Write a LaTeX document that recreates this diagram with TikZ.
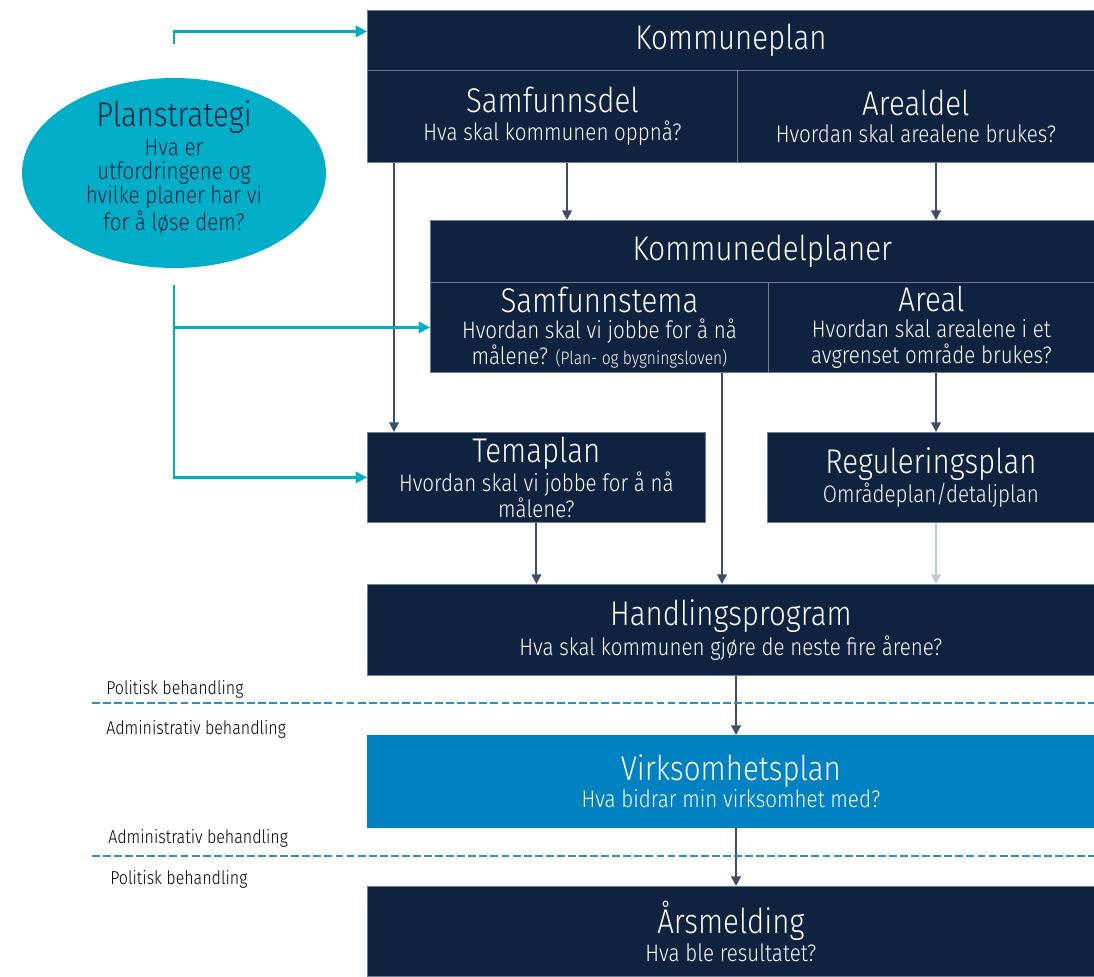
\documentclass[tikz,border=0pt]{standalone}
\usepackage{fontspec}
\setmainfont{Fira Sans}[UprightFont=* Light,FakeStretch=0.86]
\usetikzlibrary{positioning,calc,arrows.meta,shapes.geometric}
\definecolor{navy}{HTML}{0F2240}
\definecolor{vpblue}{HTML}{0082C2}
\definecolor{psblue}{HTML}{00AEC7}
\definecolor{arrowgrey}{HTML}{3F4E66}
\definecolor{lightgrey}{HTML}{C3CAD3}
\definecolor{divline}{HTML}{6E7C90}
\definecolor{dashblue}{HTML}{2A8FD0}
\newcommand{\boxtitle}{\fontsize{19.5}{22}\selectfont}
\newcommand{\boxsub}{\fontsize{13.6}{14.7}\selectfont}
\newcommand{\smalllabel}{\fontsize{10.6}{12}\selectfont}
\tikzset{every picture/.style={font issue=\boxsub},
            font issue/.style={execute at begin picture={#1}},
            planbox/.style={rectangle,fill=navy,draw=divline,line width=0.5pt,anchor=north west,
              inner sep=0pt,align=center,text=white},
            darr/.style={draw=arrowgrey,line width=1.1pt,-{Triangle[width=5.5pt,length=5.5pt]}},
            carr/.style={draw=psblue,line width=1.4pt,-{Triangle[width=6.5pt,length=6.5pt]}},
            sep/.style={draw=dashblue,line width=1.1pt,dash pattern=on 4.5pt off 1.8pt},
            behandling/.style={anchor=west,font=\smalllabel,text=black}
        }
\begin{document}
\begin{tikzpicture}[x=0.02cm,y=-0.02cm]
      \useasboundingbox (0,0) rectangle (1094,976);
      % kommuneplan
      \node[planbox,minimum width=14.54cm,minimum height=1.2cm] (kp) at (367,10) {\boxtitle Kommuneplan};
      \node[planbox,minimum width=7.4cm,minimum height=1.84cm] (sd) at (367,70)
        {{\boxtitle Samfunnsdel}\\[1pt] Hva skal kommunen oppnå?};
      \node[planbox,minimum width=7.14cm,minimum height=1.84cm] (ad) at (737,70)
        {{\boxtitle Arealdel}\\[1pt] Hvordan skal arealene brukes?};
      % planstrategi
      \node[ellipse,fill=psblue,minimum width=6.08cm,minimum height=3.8cm,inner sep=0pt] (ps) at (174,173) {};
      \node[align=center,text=navy,font=\fontsize{13.6}{13.6}\selectfont] (pstext) at (174,167)
        {{\boxtitle Planstrategi}\\[3pt] Hva er\\ utfordringene og\\ hvilke planer har vi\\ for å løse dem?};
      % kommunedelplaner
      \node[planbox,minimum width=13.28cm,minimum height=1.24cm] (kdp) at (430,220) {\boxtitle Kommunedelplaner};
      \node[planbox,minimum width=6.76cm,minimum height=1.8cm] (st) at (430,282)
        {{\boxtitle Samfunnstema}\\ Hvordan skal vi jobbe for å nå\\ målene? {\fontsize{10.3}{10}\selectfont(Plan- og bygningsloven)}};
      \node[planbox,minimum width=6.52cm,minimum height=1.8cm] (ar) at (768,282)
        {{\boxtitle Areal}\\ Hvordan skal arealene i et\\ avgrenset område brukes?};
      % tema- og reguleringsplan
      \node[planbox,minimum width=6.76cm,minimum height=1.8cm] (tp) at (367,432)
        {{\boxtitle Temaplan}\\ Hvordan skal vi jobbe for å nå\\ målene?};
      \node[planbox,minimum width=6.54cm,minimum height=1.8cm] (rp) at (767,432)
        {{\boxtitle Reguleringsplan}\\ Områdeplan/detaljplan};
      % handling, virksomhet, årsmelding
      \node[planbox,minimum width=14.54cm,minimum height=1.82cm] (hp) at (367,584)
        {{\boxtitle Handlingsprogram}\\[1pt] Hva skal kommunen gjøre de neste fire årene?};
      \node[planbox,fill=vpblue,draw=vpblue,minimum width=14.54cm,minimum height=1.84cm] (vp) at (367,735)
        {{\boxtitle Virksomhetsplan}\\[1pt] Hva bidrar min virksomhet med?};
      \node[planbox,minimum width=14.54cm,minimum height=1.8cm] (am) at (367,886)
        {{\boxtitle Årsmelding}\\[1pt] Hva ble resultatet?};

      % kolonner for pilene
      \coordinate (c1) at (394,0);
      \coordinate (c2) at (567,0);
      \coordinate (c3) at (722,0);
      \coordinate (c4) at (936,0);
      \coordinate (c5) at (736,0);
      \coordinate (psup) at (174,44);
      \coordinate (psdown) at (174,285);

      % piler
      \draw[darr] (sd.south -| c2) -- (kdp.north -| c2);
      \draw[darr] (ad.south -| c4) -- (kdp.north -| c4);
      \draw[darr] (sd.south -| c1) -- (tp.north -| c1);
      \draw[darr] (ar.south -| c4) -- (rp.north -| c4);
      \draw[darr] (st.south -| c3) -- (hp.north -| c3);
      \draw[darr] (tp.south) -- (hp.north -| tp.south);
      \draw[darr,draw=lightgrey] (rp.south -| c4) -- (hp.north -| c4);
      \draw[darr] (hp.south -| c5) -- (vp.north -| c5);
      \draw[darr] (vp.south -| c5) -- (am.north -| c5);

      % planstrategi-piler
      \draw[carr] (psup) |- ([yshift=0.18cm]kp.west);
      \draw[carr] (psdown) |- (tp.west);
      \draw[carr] (psdown |- st.west) -- (st.west);

      % behandling
      \draw[sep] (92,703) -- (1094,703);
      \draw[sep] (92,856) -- (1094,856);
      \node[behandling] (pb1) at (98,689) {Politisk behandling};
      \node[behandling] (ab1) at (98,729) {Administrativ behandling};
      \node[behandling] (ab2) at (100,838) {Administrativ behandling};
      \node[behandling] (pb2) at (102,879) {Politisk behandling};
    \end{tikzpicture}
\end{document}
